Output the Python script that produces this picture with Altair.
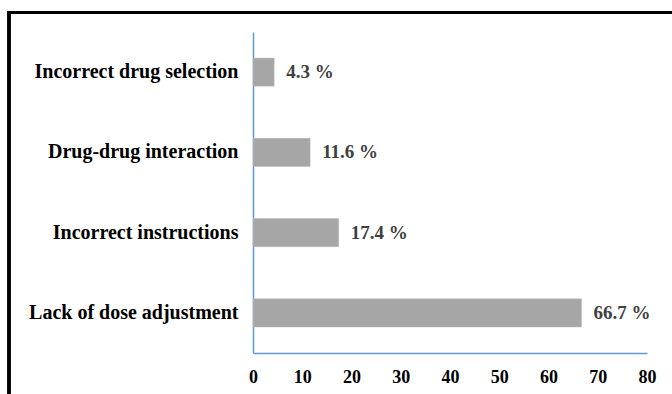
import altair as alt
import pandas as pd

categories = ["Incorrect drug selection", "Drug-drug interaction", "Incorrect instructions", "Lack of dose adjustment"]
values = [4.3, 11.6, 17.4, 66.7]
labels = ["4.3 %", "11.6 %", "17.4 %", "66.7 %"]
x_ticks = [0, 10, 20, 30, 40, 50, 60, 70, 80]

df = pd.DataFrame({"cat": categories, "val": values, "lab": labels})

FONT = "Liberation Serif"
AXIS_BLUE = "#5b9bd5"

y_enc = alt.Y("cat:N", sort=categories, title=None,
              scale=alt.Scale(paddingInner=0.65, paddingOuter=0.325),
              axis=alt.Axis(labelFont=FONT, labelFontSize=20, labelFontWeight="bold",
                            labelColor="#000000", labelPadding=15, ticks=False,
                            domainColor=AXIS_BLUE, domainWidth=1.5, labelLimit=400))
x_enc = alt.X("val:Q", title=None,
              scale=alt.Scale(domain=[0, 80], nice=False),
              axis=alt.Axis(values=x_ticks, labelFont=FONT, labelFontSize=18,
                            labelFontWeight="bold", labelColor="#000000", ticks=False,
                            labelPadding=15, grid=False, domainColor=AXIS_BLUE,
                            domainWidth=1.5, labelFlush=False))

bars = alt.Chart(df).mark_bar(color="#a6a6a6", stroke="#b8b8b8", strokeWidth=0.5).encode(
    y=y_enc, x=x_enc
)

text = alt.Chart(df).mark_text(align="left", baseline="middle", dx=12, font=FONT,
                               fontSize=19, fontWeight="bold", color="#404040").encode(
    y=alt.Y("cat:N", sort=categories),
    x=alt.X("val:Q"),
    text="lab:N",
)

frame_top = alt.Chart(df).mark_rule(color="#000000", strokeWidth=3).encode(
    x=alt.value(-246), x2=alt.value(430), y=alt.value(-19.5)
)
frame_left = alt.Chart(df).mark_rule(color="#000000", strokeWidth=3).encode(
    x=alt.value(-244), y=alt.value(-21), y2=alt.value(370)
)

chart = alt.layer(bars, text, frame_top, frame_left).properties(
    width=394, height=321,
    padding={"left": 253, "top": 32, "right": 25, "bottom": 41},
    autosize=alt.AutoSizeParams(type="none"),
    background="#ffffff",
).configure_view(stroke=None)

chart.save("out.html", embed_options={"renderer": "svg", "actions": False})
